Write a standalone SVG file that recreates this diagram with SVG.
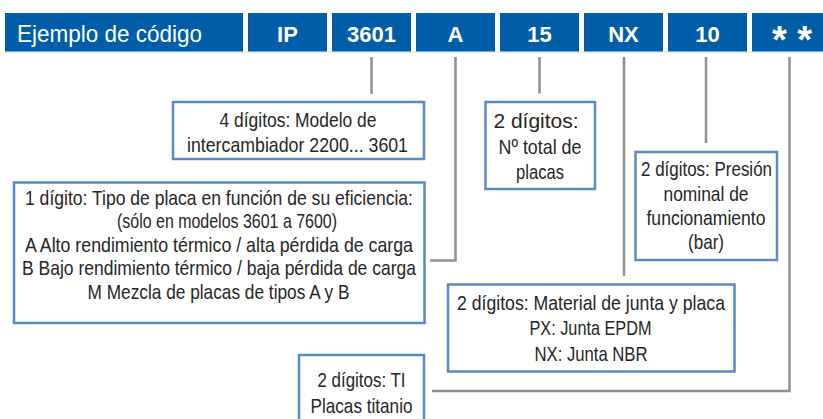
<svg xmlns="http://www.w3.org/2000/svg" width="823" height="419" viewBox="0 0 823 419">
<style>
.cell{fill:#005ea8}
.ht{font-family:"Liberation Sans",Arial,sans-serif;fill:#fff}
.hb{font-family:"Liberation Sans",Arial,sans-serif;font-weight:bold;font-size:22px;fill:#fff;text-anchor:middle}
.box{fill:#fff;stroke:#5b88c6;stroke-width:2.5}
.t{font-family:"Liberation Sans",Arial,sans-serif;font-size:21px;fill:#262626;text-anchor:middle}
.con{fill:none;stroke:#8f8f8f;stroke-width:2.5}
</style>
<rect width="823" height="419" fill="#fff"/>
<g id="header">
<line x1="5" y1="52" x2="823" y2="52" stroke="#cfdcec" stroke-width="1.2"/>
<rect class="cell" x="5" y="13" width="238" height="38.5"/>
<rect class="cell" x="248" y="13" width="79" height="38.5"/>
<rect class="cell" x="332" y="13" width="79" height="38.5"/>
<rect class="cell" x="416" y="13" width="79" height="38.5"/>
<rect class="cell" x="500" y="13" width="79" height="38.5"/>
<rect class="cell" x="584" y="13" width="79" height="38.5"/>
<rect class="cell" x="668" y="13" width="79" height="38.5"/>
<rect class="cell" x="752" y="13" width="79" height="38.5"/>
<text class="ht" x="17" y="41.5" font-size="24" textLength="185" lengthAdjust="spacingAndGlyphs">Ejemplo de código</text>
<text class="hb" x="287.5" y="41.5">IP</text>
<text class="hb" x="371.5" y="41.5">3601</text>
<text class="hb" x="455.5" y="41.5">A</text>
<text class="hb" x="539.5" y="41.5">15</text>
<text class="hb" x="623.5" y="41.5">NX</text>
<text class="hb" x="707.5" y="41.5">10</text>
<text class="ht" x="772" y="52.5" font-size="38" font-weight="bold">* *</text>
</g>
<g id="connectors">
<path class="con" d="M371.5,57 V94"/>
<path class="con" d="M455.5,57 V260.5 H430"/>
<path class="con" d="M539.5,57 V93.5"/>
<path class="con" d="M624,57 V276"/>
<path class="con" d="M706,57 V143"/>
<path class="con" d="M789.5,57 V391 H432"/>
</g>
<g id="node-modelo">
<rect class="box" x="173" y="102" width="251" height="57"/>
<text class="t" x="298" y="126.5" textLength="157" lengthAdjust="spacingAndGlyphs">4 dígitos: Modelo de</text>
<text class="t" x="297.5" y="151.5" textLength="221" lengthAdjust="spacingAndGlyphs">intercambiador 2200... 3601</text>
</g>
<g id="node-placas">
<rect class="box" x="485.5" y="102" width="109.5" height="87"/>
<text class="t" x="536" y="127.5">2 dígitos:</text>
<text class="t" x="540" y="153.5" textLength="83" lengthAdjust="spacingAndGlyphs">Nº total de</text>
<text class="t" x="540" y="179" textLength="48" lengthAdjust="spacingAndGlyphs">placas</text>
</g>
<g id="node-presion">
<rect class="box" x="635.5" y="152" width="141.5" height="108"/>
<text class="t" x="706.5" y="176" textLength="131" lengthAdjust="spacingAndGlyphs">2 dígitos: Presión</text>
<text class="t" x="706" y="200.5" textLength="85" lengthAdjust="spacingAndGlyphs">nominal de</text>
<text class="t" x="706" y="225" textLength="119" lengthAdjust="spacingAndGlyphs">funcionamiento</text>
<text class="t" x="706" y="249" textLength="36" lengthAdjust="spacingAndGlyphs">(bar)</text>
</g>
<g id="node-junta">
<rect class="box" x="448" y="284.5" width="286.5" height="87"/>
<text class="t" x="591" y="310" textLength="268" lengthAdjust="spacingAndGlyphs">2 dígitos: Material de junta y placa</text>
<text class="t" x="590.5" y="335" textLength="122" lengthAdjust="spacingAndGlyphs">PX: Junta EPDM</text>
<text class="t" x="591" y="360.5" textLength="113" lengthAdjust="spacingAndGlyphs">NX: Junta NBR</text>
</g>
<g id="node-tipo">
<rect class="box" x="14" y="182.5" width="410.5" height="140.5"/>
<text class="t" x="219" y="205" textLength="388" lengthAdjust="spacingAndGlyphs">1 dígito: Tipo de placa en función de su eficiencia:</text>
<text class="t" x="227" y="228" textLength="220" lengthAdjust="spacingAndGlyphs">(sólo en modelos 3601 a 7600)</text>
<text class="t" x="219" y="251.5" textLength="388" lengthAdjust="spacingAndGlyphs">A Alto rendimiento térmico / alta pérdida de carga</text>
<text class="t" x="219" y="275" textLength="394" lengthAdjust="spacingAndGlyphs">B Bajo rendimiento térmico / baja pérdida de carga</text>
<text class="t" x="218.5" y="299" textLength="262" lengthAdjust="spacingAndGlyphs">M Mezcla de placas de tipos A y B</text>
</g>
<g id="node-titanio">
<rect class="box" x="299" y="355" width="125" height="80"/>
<text class="t" x="361.5" y="387" textLength="88" lengthAdjust="spacingAndGlyphs">2 dígitos: TI</text>
<text class="t" x="361.5" y="413" textLength="102" lengthAdjust="spacingAndGlyphs">Placas titanio</text>
</g>
</svg>
